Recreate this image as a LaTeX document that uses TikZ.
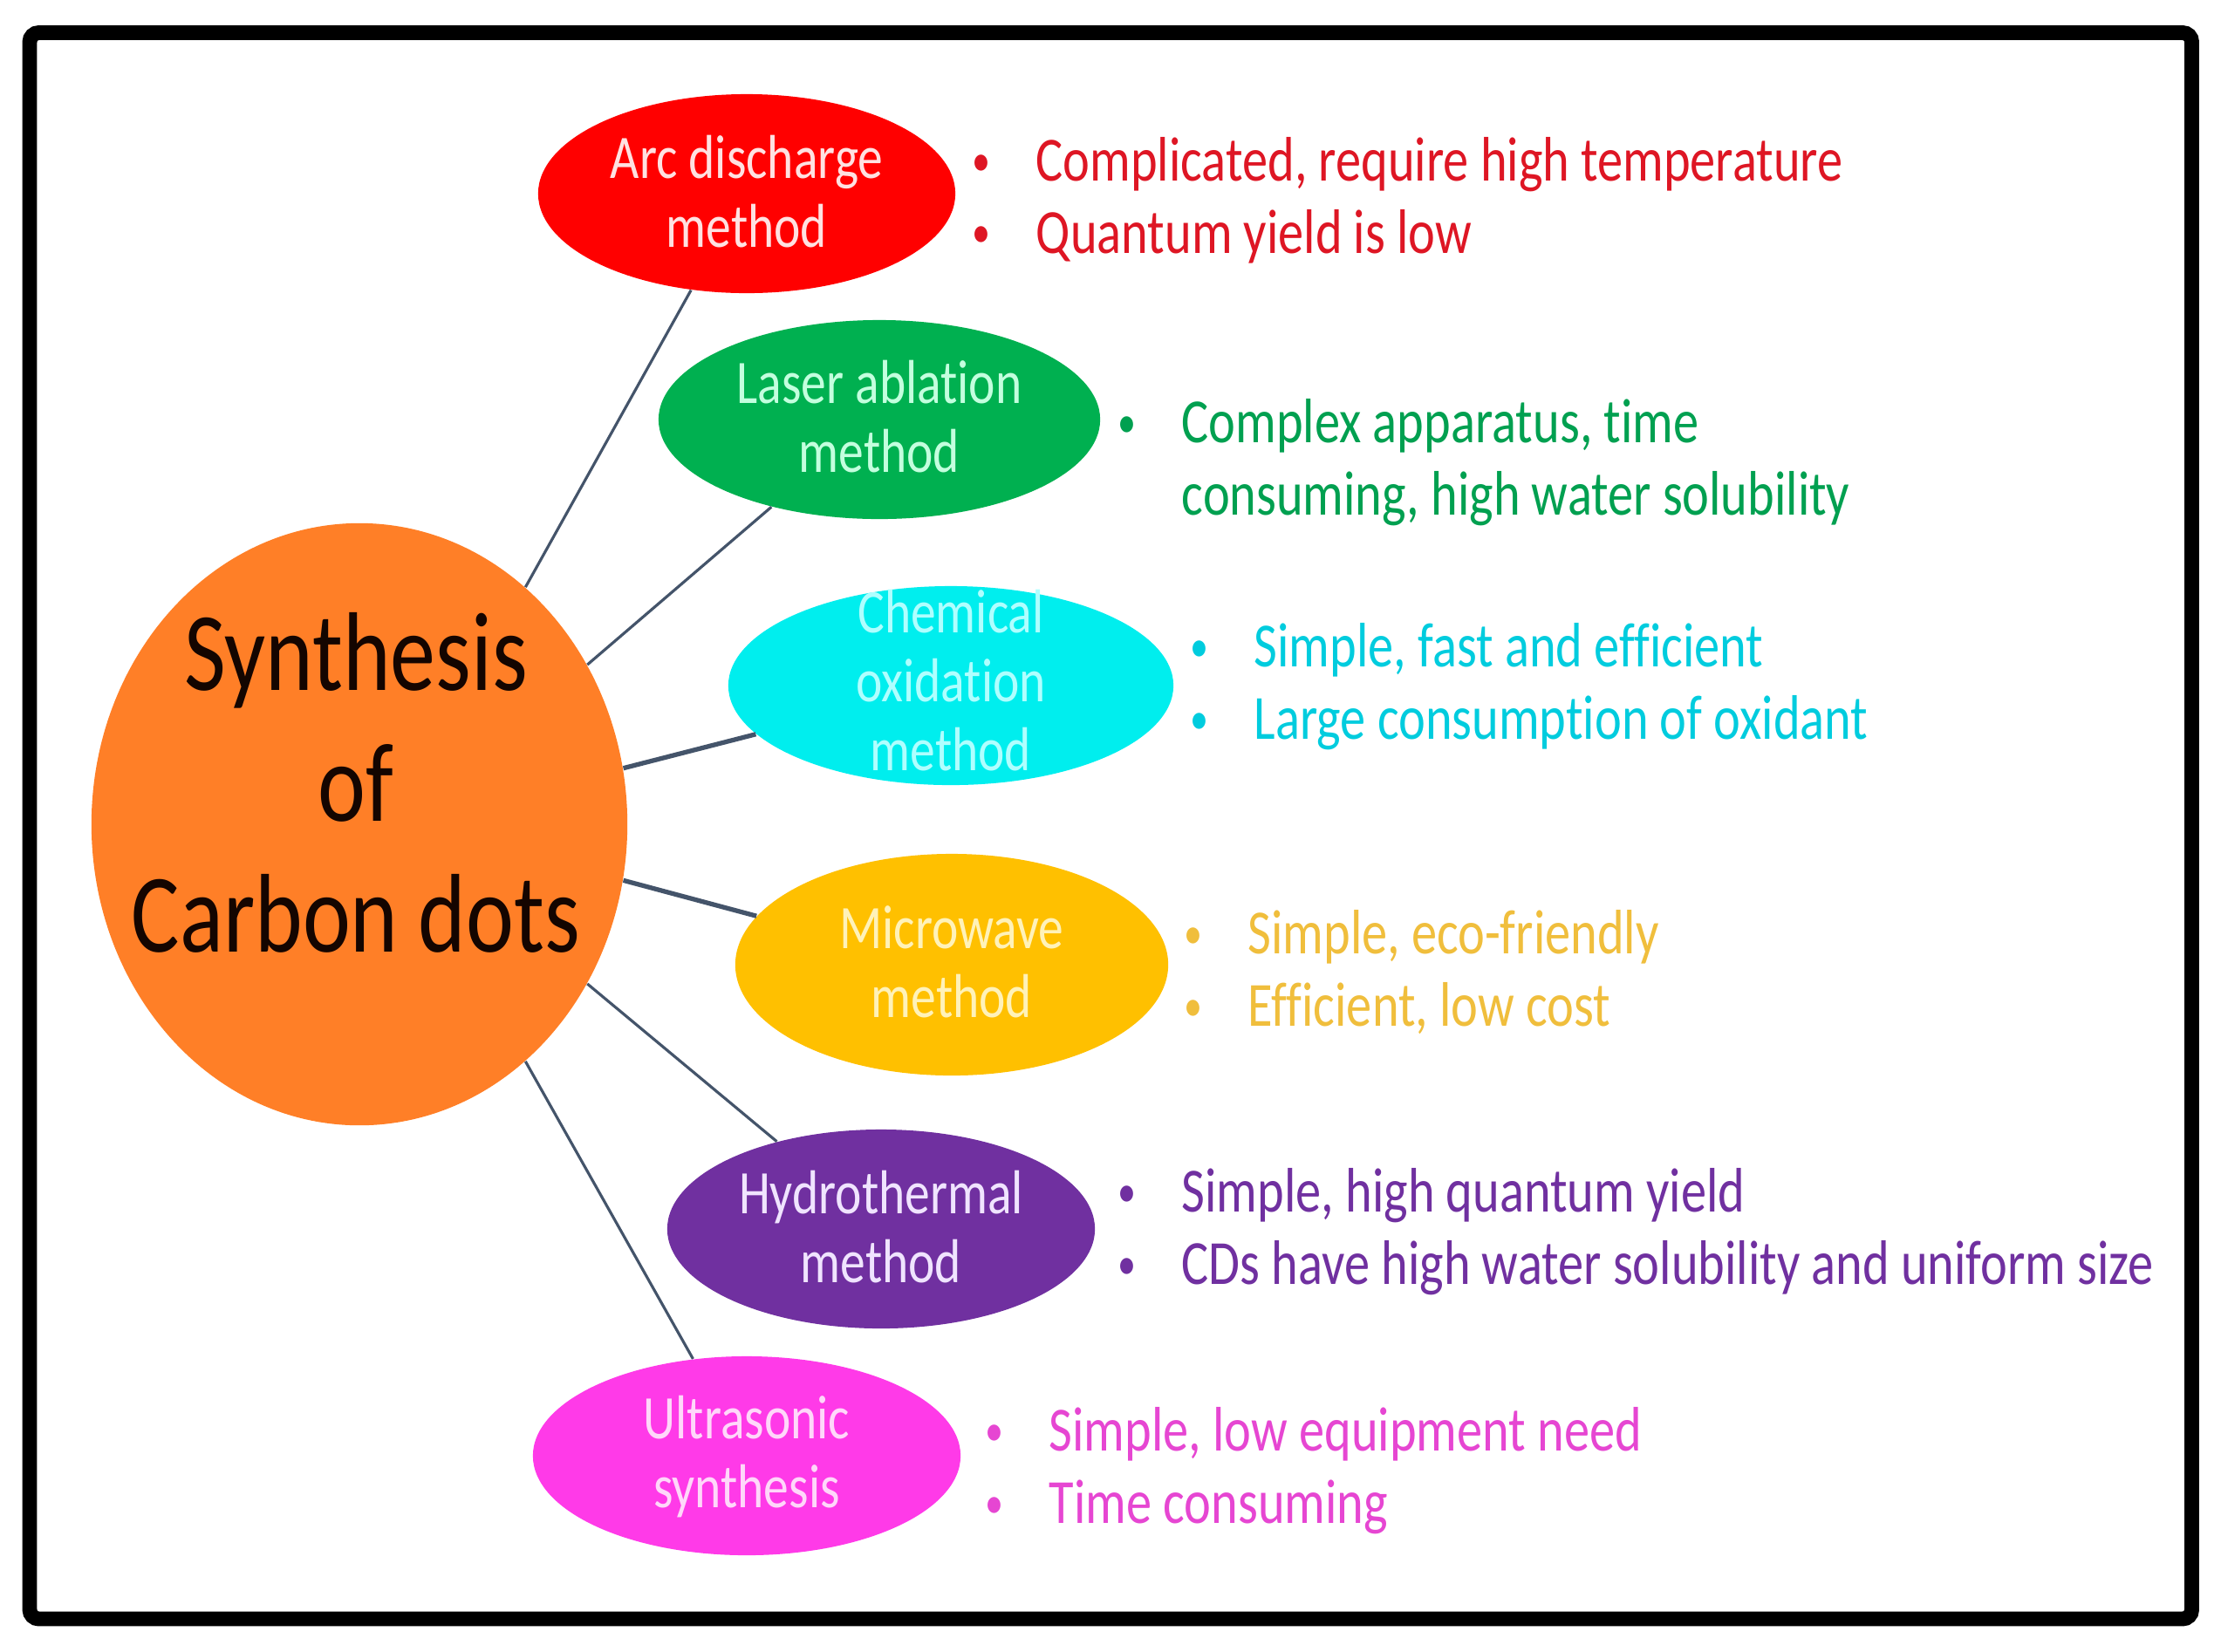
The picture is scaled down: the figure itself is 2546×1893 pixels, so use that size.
\documentclass[tikz,border=0pt]{standalone}
\usepackage{fontspec}
\setmainfont[FakeStretch=0.81, Ligatures={NoCommon}]{Carlito}
\usetikzlibrary{shapes.geometric}
\definecolor{orangeC}{RGB}{255,127,39}
\definecolor{redC}{RGB}{255,0,0}
\definecolor{redT}{RGB}{222,22,36}
\definecolor{redI}{RGB}{255,225,225}
\definecolor{greenC}{RGB}{0,176,80}
\definecolor{greenT}{RGB}{0,160,80}
\definecolor{greenI}{RGB}{195,255,222}
\definecolor{cyanC}{RGB}{0,238,238}
\definecolor{cyanT}{RGB}{0,204,222}
\definecolor{cyanI}{RGB}{175,255,255}
\definecolor{goldC}{RGB}{255,192,0}
\definecolor{goldT}{RGB}{240,190,60}
\definecolor{goldI}{RGB}{255,242,185}
\definecolor{purpC}{RGB}{112,48,160}
\definecolor{purpT}{RGB}{112,48,160}
\definecolor{purpI}{RGB}{240,228,255}
\definecolor{magC}{RGB}{255,58,232}
\definecolor{magT}{RGB}{230,70,210}
\definecolor{magI}{RGB}{255,215,250}
\definecolor{connC}{RGB}{68,84,106}
\definecolor{darkT}{RGB}{20,5,0}
\tikzset{
  blob/.style 2 args={ellipse, inner sep=0pt, minimum width=#1, minimum height=#2},
  etxt/.style={anchor=base, inner sep=0pt, font=\fontsize{20.2}{22.5}\selectfont},
  rtxt/.style={anchor=base west, inner sep=0pt, font=\fontsize{20.5}{23.6}\selectfont},
  conn/.style={draw=connC, line width=0.9pt},
  connthick/.style={draw=connC, line width=1.5pt}
}
\newcommand{\bul}{\makebox[0.78cm][l]{\hspace{0.05cm}\raisebox{0.06cm}{\scalebox{0.72}{\textbullet}}}}
\begin{document}
\begin{tikzpicture}[x=0.01cm,y=-0.01cm]
\useasboundingbox (0,0) rectangle (2546,1893);
\fill[white] (0,0) rectangle (2546,1893);
\draw[line width=4.8pt, rounded corners=3pt] (34,37.5) rectangle (2512.5,1856);

% central circle
\node[blob={6.14cm}{6.90cm}, fill=orangeC] (circ) at (412,945) {};
\node[anchor=base, inner sep=0pt, text=darkT, font=\fontsize{36.5}{42.7}\selectfont] (circT) at (408,791)
  {\begin{tabular}[t]{@{}c@{}}Synthesis\\of\\Carbon dots\end{tabular}};

% method ellipses
\node[blob={4.78cm}{2.28cm}, fill=redC] (arc) at (856,222) {};
\node[blob={5.06cm}{2.28cm}, fill=greenC] (laser) at (1008,481) {};
\node[blob={5.10cm}{2.28cm}, fill=cyanC] (chem) at (1090,786) {};
\node[blob={4.96cm}{2.54cm}, fill=goldC] (micro) at (1091,1106) {};
\node[blob={4.90cm}{2.28cm}, fill=purpC] (hydro) at (1010,1409) {};
\node[blob={4.90cm}{2.28cm}, fill=magC] (ultra) at (856,1669) {};

\node[etxt, text=redI] (arcT) at (856,204) {\begin{tabular}[t]{@{}c@{}}Arc discharge\\method\end{tabular}};
\node[etxt, text=greenI] (laserT) at (1008,462) {\begin{tabular}[t]{@{}c@{}}Laser ablation\\method\end{tabular}};
\node[etxt, text=cyanI] (chemT) at (1090,725) {\begin{tabular}[t]{@{}c@{}}Chemical\\oxidation\\method\end{tabular}};
\node[etxt, text=goldI] (microT) at (1091,1087) {\begin{tabular}[t]{@{}c@{}}Microwave\\method\end{tabular}};
\node[etxt, text=purpI] (hydroT) at (1010,1391) {\begin{tabular}[t]{@{}c@{}}Hydrothermal\\method\end{tabular}};
\node[etxt, text=magI] (ultraT) at (856,1649) {\begin{tabular}[t]{@{}c@{}}Ultrasonic\\synthesis\end{tabular}};

% connectors
\draw[conn] (circ.55.2) -- (arc.240.7);
\draw[conn] (circ.35.6) -- (laser.219.8);
\draw[connthick] (circ.12.4) -- (chem.194);
\draw[connthick] (circ.-12.5) -- (micro.166);
\draw[conn] (circ.-35.8) -- (hydro.140.2);
\draw[conn] (circ.-55.4) -- (ultra.119.5);

% descriptions
\node[rtxt, text=redT] (arcD) at (1109,207)
  {\begin{tabular}[t]{@{}l@{}l@{}}\bul & Complicated, require high temperature\\ \bul & Quantum yield is low\end{tabular}};
\node[rtxt, text=greenT] (laserD) at (1276,507)
  {\begin{tabular}[t]{@{}l@{}l@{}}\bul & Complex apparatus, time\\ & consuming, high water solubility\end{tabular}};
\node[rtxt, text=cyanT] (chemD) at (1359,764)
  {\begin{tabular}[t]{@{}l@{}l@{}}\bul & Simple, fast and efficient\\ \bul & Large consumption of oxidant\end{tabular}};
\node[rtxt, text=goldT] (microD) at (1352,1093)
  {\begin{tabular}[t]{@{}l@{}l@{}}\bul & Simple, eco-friendly\\ \bul & Efficient, low cost\end{tabular}};
\node[rtxt, text=purpT] (hydroD) at (1276,1389)
  {\begin{tabular}[t]{@{}l@{}l@{}}\bul & Simple, high quantum yield\\ \bul & CDs have high water solubility and uniform size\end{tabular}};
\node[rtxt, text=magT] (ultraD) at (1124,1663)
  {\begin{tabular}[t]{@{}l@{}l@{}}\bul & Simple, low equipment need\\ \bul & Time consuming\end{tabular}};
\end{tikzpicture}
\end{document}
